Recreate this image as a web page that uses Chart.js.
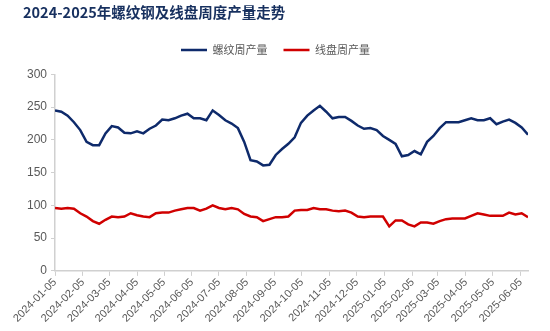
<!DOCTYPE html>
<html>
<head>
<meta charset="utf-8">
<script src="https://cdn.jsdelivr.net/npm/chart.js@4.4.1/dist/chart.umd.min.js"></script>
<style>
  html, body { margin: 0; padding: 0; background: #fff; }
  #wrap { width: 550px; height: 331px; }
</style>
</head>
<body>
<div id="wrap"><canvas id="chart"></canvas></div>
<script>
// weekly data, first week 2024-01-05
const startDate = "2024-01-05";

const rebar = [245, 243, 237, 227, 215, 197, 192, 192, 210, 221,
  219, 211, 210, 213, 210, 217, 222, 231, 230, 233,
  237, 240, 233, 233, 230, 245, 238, 230, 225, 218,
  197, 169, 167, 161, 162, 177, 186, 194, 204, 226,
  237, 245, 252, 243, 233, 235, 235, 229, 222, 217,
  218, 215, 206, 200, 194, 175, 177, 183, 178, 197,
  206, 218, 227, 227, 227, 230, 233, 230, 230, 233,
  224, 228, 231, 226, 219, 208];

const wire = [96, 95, 96, 95, 88, 83, 76, 72, 78, 83,
  82, 83, 88, 85, 83, 82, 88, 89, 89, 92,
  94, 96, 96, 92, 95, 100, 96, 94, 96, 94,
  87, 83, 82, 76, 79, 82, 82, 83, 92, 93,
  93, 96, 94, 94, 92, 91, 92, 89, 83, 82,
  83, 83, 83, 68, 77, 77, 71, 68, 74, 74,
  72, 76, 79, 80, 80, 80, 84, 88, 86, 84,
  84, 84, 89, 86, 88, 82];

const tickLabels = ["2024-01-05", "2024-02-05", "2024-03-05", "2024-04-05", "2024-05-05",
  "2024-06-05", "2024-07-05", "2024-08-05", "2024-09-05", "2024-10-05", "2024-11-05",
  "2024-12-05", "2025-01-05", "2025-02-05", "2025-03-05", "2025-04-05", "2025-05-05",
  "2025-06-05"];

const yTicks = [0, 50, 100, 150, 200, 250, 300];

// day offset from the first week
function dayOf(s) {
  return Math.round((Date.parse(s) - Date.parse(startDate)) / 86400000);
}
const tickDays = tickLabels.map(dayOf);

const rebarPts = rebar.map((v, i) => ({ x: i * 7, y: v }));
const wirePts = wire.map((v, i) => ({ x: i * 7, y: v }));

const grey = "#595959";
const axisLine = "#d0d0d0";

// extra room under the legend
const legendGap = {
  id: "legendGap",
  beforeInit(chart) {
    const fit = chart.legend.fit;
    chart.legend.fit = function () {
      fit.bind(chart.legend)();
      this.height += 9;
    };
  }
};

new Chart(document.getElementById("chart"), {
  type: "line",
  data: {
    datasets: [
      {
        label: "螺纹周产量",
        data: rebarPts,
        borderColor: "#0e2a6b",
        backgroundColor: "#0e2a6b",
        borderWidth: 2.5,
        pointRadius: 0,
        tension: 0
      },
      {
        label: "线盘周产量",
        data: wirePts,
        borderColor: "#d00000",
        backgroundColor: "#d00000",
        borderWidth: 2.5,
        pointRadius: 0,
        tension: 0
      }
    ]
  },
  plugins: [legendGap],
  options: {
    responsive: true,
    maintainAspectRatio: false,
    animation: false,
    layout: { padding: { left: 23, right: 22, top: 2, bottom: 6 } },
    plugins: {
      title: {
        display: true,
        text: "2024-2025年螺纹钢及线盘周度产量走势",
        align: "start",
        color: "#17305f",
        font: { family: "'Noto Sans CJK SC', sans-serif", size: 14.5, weight: "bold" },
        padding: { top: 2, bottom: 7 }
      },
      legend: {
        display: true,
        position: "top",
        labels: {
          usePointStyle: true,
          pointStyle: "line",
          pointStyleWidth: 26,
          color: grey,
          font: { family: "'Noto Sans CJK SC', sans-serif", size: 11 },
          padding: 16
        }
      },
      tooltip: { enabled: false }
    },
    scales: {
      x: {
        type: "linear",
        min: 0,
        max: (rebar.length - 1) * 7,
        afterBuildTicks: axis => { axis.ticks = tickDays.map(v => ({ value: v })); },
        grid: { drawOnChartArea: false, drawTicks: true, tickLength: 5, color: axisLine },
        border: { color: axisLine, width: 1.5 },
        ticks: {
          autoSkip: false,
          minRotation: 45,
          maxRotation: 45,
          color: grey,
          font: { family: "Arial, 'Liberation Sans', sans-serif", size: 11 },
          padding: 0,
          callback: v => tickLabels[tickDays.indexOf(v)]
        }
      },
      y: {
        min: 0,
        max: 300,
        afterBuildTicks: axis => { axis.ticks = yTicks.map(v => ({ value: v })); },
        grid: { drawOnChartArea: false, drawTicks: true, tickLength: 4, color: axisLine },
        border: { color: axisLine, width: 1.5 },
        ticks: {
          color: grey,
          font: { family: "Arial, 'Liberation Sans', sans-serif", size: 12 },
          padding: 4
        }
      }
    }
  }
});
</script>
</body>
</html>
